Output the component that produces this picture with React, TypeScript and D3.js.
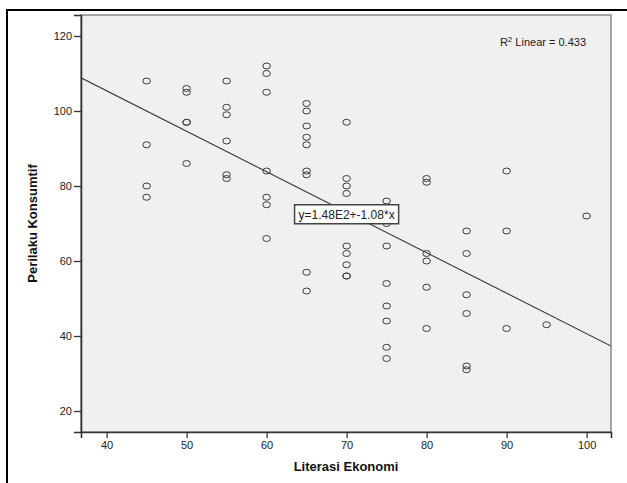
import React, { useEffect, useRef } from 'react';
import * as d3 from 'd3';

// Literasi Ekonomi (x) and Perilaku Konsumtif (y), one entry per respondent
const literasi = [
  45, 45, 45, 45,
  50, 50, 50, 50, 50,
  55, 55, 55, 55, 55, 55,
  60, 60, 60, 60, 60, 60, 60,
  65, 65, 65, 65, 65, 65, 65, 65, 65,
  70, 70, 70, 70, 70, 70, 70, 70, 70,
  75, 75, 75, 75, 75, 75, 75, 75,
  80, 80, 80, 80, 80, 80,
  85, 85, 85, 85, 85, 85,
  90, 90, 90,
  95,
  100,
];
const perilaku = [
  108, 91, 80, 77,
  106, 105, 97, 97, 86,
  108, 101, 99, 92, 83, 82,
  112, 110, 105, 84, 77, 75, 66,
  102, 100, 96, 93, 91, 84, 83, 57, 52,
  97, 82, 80, 78, 64, 62, 59, 56, 56,
  76, 70, 64, 54, 48, 44, 37, 34,
  82, 81, 62, 60, 53, 42,
  68, 62, 51, 46, 32, 31,
  84, 68, 42,
  43,
  72,
];

const xTicks = [40, 50, 60, 70, 80, 90, 100];
const yTicks = [20, 40, 60, 80, 100, 120];

const fitIntercept = 148.6;
const fitSlope = -1.08;
const fitLabel = 'y=1.48E2+-1.08*x';
const r2Value = '0.433';

const W = 627;
const H = 483;
const FONT = '"Liberation Sans", Arial, sans-serif';

export default function App() {
  const svgRef = useRef<SVGSVGElement>(null);

  useEffect(() => {
    const svg = d3.select(svgRef.current);
    svg.selectAll('*').remove();

    const margin = { top: 15, right: 16, bottom: 51, left: 81 };
    const left = margin.left;
    const right = W - margin.right;
    const top = margin.top;
    const bottom = H - margin.bottom;

    const x = d3.scaleLinear().domain([36.8, 103.05]).range([left, right]);
    const y = d3.scaleLinear().domain([14.4, 125.6]).range([bottom, top]);

    svg.append('rect').attr('width', W).attr('height', H).attr('fill', '#fff');

    // outer frame, cut by the picture edge
    svg.append('path')
      .attr('d', `M7,${H + 2}V10H${W + 2}`)
      .attr('fill', 'none')
      .attr('stroke', '#000')
      .attr('stroke-width', 2);

    // plot area
    svg.append('rect')
      .attr('x', left)
      .attr('y', top)
      .attr('width', right - left)
      .attr('height', bottom - top)
      .attr('fill', '#f0f0f0')
      .attr('stroke', '#8a8a8a')
      .attr('stroke-width', 1.5);

    const clip = svg.append('defs').append('clipPath').attr('id', 'plot-clip');
    clip.append('rect')
      .attr('x', left).attr('y', top)
      .attr('width', right - left).attr('height', bottom - top);

    // fit line
    const xd = x.domain();
    svg.append('line')
      .attr('clip-path', 'url(#plot-clip)')
      .attr('x1', x(xd[0]))
      .attr('y1', y(fitIntercept + fitSlope * xd[0]))
      .attr('x2', x(xd[1]))
      .attr('y2', y(fitIntercept + fitSlope * xd[1]))
      .attr('stroke', '#3a3a3a')
      .attr('stroke-width', 1.1);

    // points
    svg.append('g')
      .selectAll('ellipse')
      .data(literasi.map((v, i) => [v, perilaku[i]]))
      .join('ellipse')
      .attr('cx', d => x(d[0]))
      .attr('cy', d => y(d[1]))
      .attr('rx', 3.8)
      .attr('ry', 3)
      .attr('fill', 'none')
      .attr('stroke', '#3c3c3c')
      .attr('stroke-width', 1);

    // axes
    const yAxis = svg.append('g')
      .attr('transform', `translate(${left},0)`)
      .call(d3.axisLeft(y).tickValues(yTicks).tickSize(7).tickPadding(2));
    const xAxis = svg.append('g')
      .attr('transform', `translate(0,${bottom})`)
      .call(d3.axisBottom(x).tickValues(xTicks).tickSize(6).tickPadding(3));

    [yAxis, xAxis].forEach(g => {
      g.select('.domain').attr('stroke', '#333').attr('stroke-width', 1.6);
      g.selectAll('.tick line').attr('stroke', '#333').attr('stroke-width', 1.3);
      g.selectAll('.tick text')
        .attr('fill', '#222')
        .style('font-family', FONT)
        .style('font-size', '11px');
    });

    // equation label
    const xm = 70;
    const lab = svg.append('g')
      .attr('transform', `translate(${x(xm)},${y(fitIntercept + fitSlope * xm) + 2})`);
    const t = lab.append('text')
      .attr('text-anchor', 'middle')
      .attr('dy', '0.36em')
      .attr('fill', '#222')
      .style('font-family', FONT)
      .style('font-size', '12px')
      .text(fitLabel);
    const bb = (t.node() as SVGTextElement).getBBox();
    lab.insert('rect', 'text')
      .attr('x', bb.x - 4)
      .attr('y', -9.5)
      .attr('width', bb.width + 8)
      .attr('height', 19)
      .attr('fill', '#fff')
      .attr('stroke', '#444')
      .attr('stroke-width', 1.5);

    // R² label
    const r2 = svg.append('text')
      .attr('x', right - 25)
      .attr('y', top + 31)
      .attr('text-anchor', 'end')
      .attr('fill', '#222')
      .style('font-family', FONT)
      .style('font-size', '11px');
    r2.append('tspan').text('R');
    r2.append('tspan').attr('dy', -4).style('font-size', '8px').text('2');
    r2.append('tspan').attr('dy', 4).text(` Linear = ${r2Value}`);

    // axis titles
    svg.append('text')
      .attr('x', (left + right) / 2)
      .attr('y', bottom + 39)
      .attr('text-anchor', 'middle')
      .attr('fill', '#111')
      .style('font-family', FONT)
      .style('font-size', '13px')
      .style('font-weight', 'bold')
      .text('Literasi Ekonomi');

    svg.append('text')
      .attr('transform', `translate(37,${(top + bottom) / 2}) rotate(-90)`)
      .attr('text-anchor', 'middle')
      .attr('fill', '#111')
      .style('font-family', FONT)
      .style('font-size', '13px')
      .style('font-weight', 'bold')
      .text('Perilaku Konsumtif');
  }, []);

  return (
    <div style={{ position: 'absolute', left: 0, top: 0 }}>
      <svg ref={svgRef} width={W} height={H} viewBox={`0 0 ${W} ${H}`} style={{ display: 'block' }} />
    </div>
  );
}
